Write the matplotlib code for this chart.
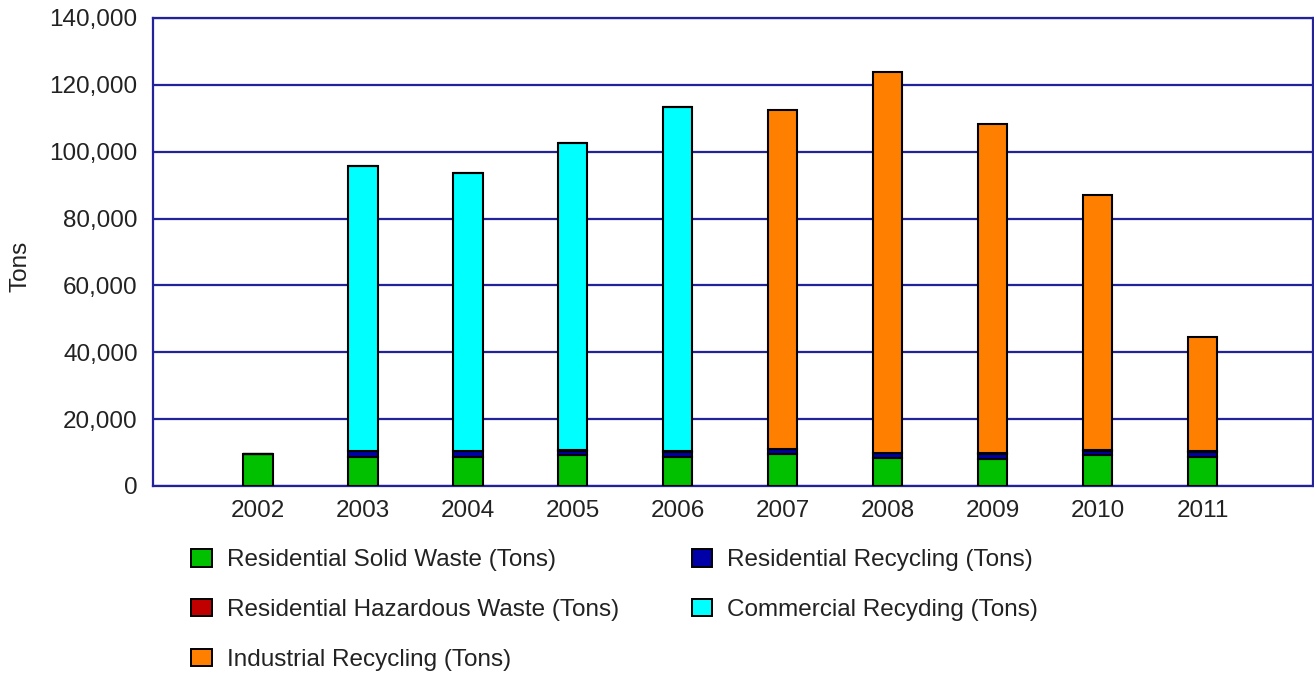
import numpy as np
import matplotlib.pyplot as plt
from matplotlib.patches import Patch

plt.rcParams['font.family'] = ['Liberation Sans', 'DejaVu Sans']

years = [2002, 2003, 2004, 2005, 2006, 2007, 2008, 2009, 2010, 2011]
solid_waste = [9600, 8800, 8800, 9300, 8800, 9500, 8300, 8100, 9300, 8800]
res_recycling = [0, 1700, 1600, 1300, 1500, 1600, 1500, 1500, 1200, 1500]
hazardous = [0, 100, 100, 100, 100, 100, 100, 200, 200, 100]
commercial = [0, 85100, 83100, 91900, 103000, 0, 0, 0, 0, 0]
industrial = [0, 0, 0, 0, 0, 101300, 113900, 98500, 76300, 34200]

labels = ['Residential Solid Waste (Tons)', 'Residential Recycling (Tons)',
          'Residential Hazardous Waste (Tons)', 'Commercial Recyding (Tons)',
          'Industrial Recycling (Tons)']
colors = ['#00c000', '#0000a8', '#c00000', '#00ffff', '#ff8000']
series = [solid_waste, res_recycling, hazardous, commercial, industrial]

fs = 17.5
fig = plt.figure(figsize=(13.14, 6.73), dpi=100)
ax = fig.add_axes([0.1164, 0.2779, 0.8826, 0.6954])

x = np.array(years)
bottom = np.zeros(len(years))
for vals, col in zip(series, colors):
    v = np.array(vals, dtype=float)
    ax.bar(x, v, 0.28, bottom=bottom, color=col, edgecolor='black',
           linewidth=1.5, zorder=3)
    bottom += v

ax.set_xlim(2001.0, 2012.05)
ax.set_ylim(0, 140000)
ax.set_yticks(np.arange(0, 140001, 20000))
ax.set_yticklabels([f'{t:,}' for t in range(0, 140001, 20000)])
ax.set_xticks(years)
ax.set_xticklabels([str(y) for y in years])
ax.yaxis.grid(True, color='#22229a', linewidth=1.6, zorder=1)
ax.tick_params(length=0, labelsize=fs, colors='#222222')
ax.tick_params(axis='y', pad=11)
ax.tick_params(axis='x', pad=10)
for s in ax.spines.values():
    s.set_color('#22229a')
    s.set_linewidth(1.6)
ax.set_ylabel('Tons', fontsize=fs, color='#222222')
ax.yaxis.set_label_coords(-0.105, 0.47)

handles = [Patch(facecolor=c, edgecolor='black', linewidth=1.4) for c in colors]
order = [0, 2, 4, 1, 3]
fig.legend([handles[i] for i in order], [labels[i] for i in order],
           ncol=2, loc='upper left', bbox_to_anchor=(0.129, 0.217),
           frameon=False, fontsize=fs, handlelength=0.85, handleheight=0.75,
           handletextpad=0.6, columnspacing=3.0, labelspacing=1.13,
           labelcolor='#222222')

fig.savefig('out.png', dpi=100)
